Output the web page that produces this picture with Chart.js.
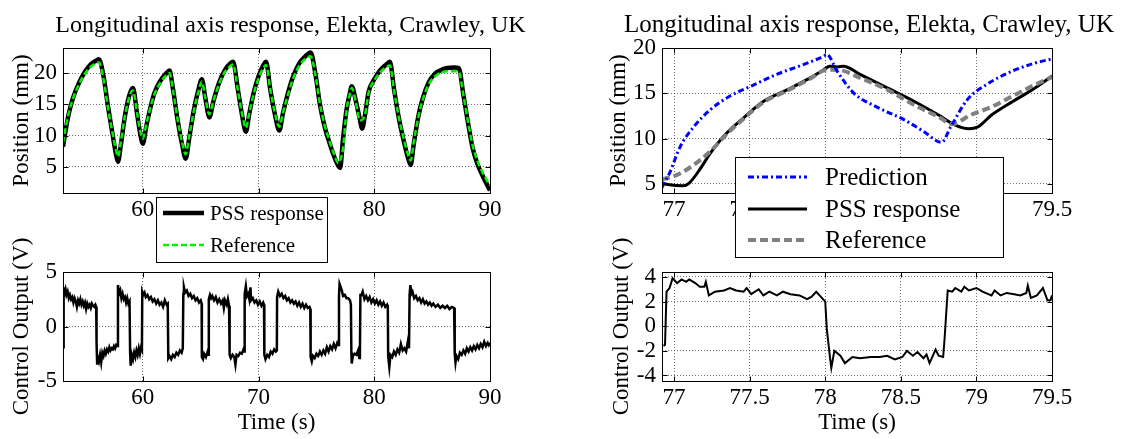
<!DOCTYPE html>
<html>
<head>
<meta charset="utf-8">
<script src="https://cdn.jsdelivr.net/npm/chart.js@4"></script>
<style>
  body { margin: 0; background: #fff; }
  #wrap { position: relative; width: 1139px; height: 439px; }
  canvas { position: absolute; left: 0; top: 0; }
</style>
</head>
<body>
<div id="wrap">
  <canvas id="ctrlL" width="1139" height="439"></canvas>
  <canvas id="ctrlR" width="1139" height="439"></canvas>
  <canvas id="posL" width="1139" height="439"></canvas>
  <canvas id="posR" width="1139" height="439"></canvas>
</div>
<script>
// ---- data ----
const titleText = "Longitudinal axis response, Elekta, Crawley, UK";

// left, position (mm) over the whole run
const tPosL = [53.1, 53.3, 53.6, 54.0, 54.5, 55.0, 55.5, 56.0, 56.2, 56.6, 57.0, 57.4, 57.7, 57.85,
  58.1, 58.4, 58.7, 59.0, 59.15, 59.5, 59.8, 60.0, 60.3, 60.7, 61.0, 61.5, 62.0, 62.3, 62.6, 63.0,
  63.4, 63.7, 64.0, 64.4, 64.8, 65.1, 65.4, 65.75, 66.1, 66.6, 67.1, 67.6, 67.8, 68.2, 68.6, 68.9,
  69.2, 69.6, 70.0, 70.4, 70.65, 71.0, 71.4, 71.8, 72.1, 72.5, 73.0, 73.5, 74.0, 74.5, 74.9, 75.3,
  75.7, 76.1, 76.5, 76.9, 77.05, 77.3, 77.6, 77.85, 78.05, 78.4, 78.75, 78.95, 79.2, 79.5, 80.0,
  80.5, 81.0, 81.35, 81.7, 82.1, 82.5, 82.9, 83.15, 83.4, 83.8, 84.2, 84.7, 85.2, 85.7, 86.3, 86.9,
  87.3, 87.7, 88.1, 88.5, 88.9, 89.3, 89.7, 90.0];
const pssPosL = [8.2, 10.5, 13.5, 16.2, 18.5, 20.2, 21.4, 22.0, 22.2, 19.5, 14.5, 10.0, 6.8, 5.8,
  8.5, 12.5, 15.5, 17.3, 17.6, 13.5, 10.0, 8.7, 11.5, 14.8, 16.8, 18.7, 19.9, 20.4, 17.5, 12.5,
  8.5, 6.3, 9.5, 14.0, 17.3, 19.0, 16.0, 12.9, 15.5, 18.5, 20.5, 21.6, 21.8, 17.5, 13.0, 10.6,
  13.5, 17.0, 19.5, 21.2, 21.8, 17.5, 13.5, 10.8, 13.5, 16.5, 19.5, 21.5, 22.6, 23.3, 20.0, 15.0,
  11.5, 9.0, 6.8, 5.1, 4.8, 9.5, 14.1, 16.4, 17.9, 15.6, 12.6, 11.1, 13.3, 16.9, 19.0,
  20.4, 21.3, 21.8, 17.5, 13.0, 9.5, 6.5, 5.3, 8.5, 13.0, 16.0, 18.5, 19.8, 20.4, 20.8, 20.9,
  20.8, 16.5, 12.0, 8.0, 5.5, 3.8, 2.3, 1.2];
const refPosL = [8.8, 10.9, 13.6, 16.1, 18.3, 19.9, 21.0, 21.6, 21.7, 19.0, 14.3, 10.2, 7.5, 6.6,
  9.0, 12.6, 15.3, 17.0, 17.2, 13.6, 10.5, 9.5, 11.8, 14.8, 16.6, 18.4, 19.6, 20.0, 17.3, 12.6,
  8.9, 7.0, 9.8, 13.9, 17.0, 18.6, 16.0, 13.4, 15.6, 18.3, 20.2, 21.2, 21.4, 17.4, 13.2, 11.2,
  13.6, 16.8, 19.2, 20.8, 21.3, 17.5, 13.7, 11.4, 13.6, 16.3, 19.2, 21.1, 22.2, 22.7, 19.8, 15.1,
  11.7, 9.3, 7.1, 5.6, 6.0, 8.0, 14.0, 16.3, 17.6, 15.4, 12.4, 12.5, 13.3, 16.8, 18.8,
  20.1, 20.9, 21.2, 17.3, 13.1, 9.8, 7.0, 6.0, 8.8, 12.9, 15.8, 18.2, 19.4, 20.0, 20.3, 20.3,
  20.2, 16.5, 12.2, 8.4, 6.0, 4.3, 2.9, 2.0];

// left, control output (V)
const tCtrlL = [53.1, 53.13, 53.18, 53.25, 53.32, 53.4, 53.5, 53.6, 53.7, 53.8, 53.9, 54.0, 54.1, 54.2,
  54.3, 54.4, 54.5, 54.6, 54.7, 54.8, 54.9, 55.0, 55.1, 55.2, 55.3, 55.4, 55.5, 55.6, 55.7, 55.8,
  55.9, 55.97, 56.0, 56.05, 56.12, 56.2, 56.3, 56.4, 56.5, 56.6, 56.7, 56.8, 56.9, 57.0, 57.1,
  57.2, 57.3, 57.4, 57.5, 57.6, 57.7, 57.8, 57.85, 57.95, 58.05, 58.15, 58.25, 58.35, 58.45,
  58.55, 58.65, 58.75, 58.85, 58.9, 58.95, 59.05, 59.15, 59.25, 59.35, 59.45, 59.55, 59.65,
  59.75, 59.85, 59.92, 59.95, 60.05, 60.15, 60.25, 60.4, 60.55, 60.7, 60.85, 61.0, 61.15, 61.3,
  61.45, 61.6, 61.75, 61.9, 62.05, 62.15, 62.2, 62.3, 62.45, 62.6, 62.75, 62.9, 63.05, 63.2,
  63.35, 63.45, 63.5, 63.55, 63.65, 63.8, 63.95, 64.1, 64.25, 64.4, 64.55, 64.7, 64.85, 65.0,
  65.08, 65.1, 65.2, 65.3, 65.45, 65.6, 65.68, 65.7, 65.8, 65.9, 66.0, 66.15, 66.3, 66.45, 66.6,
  66.75, 66.9, 67.0, 67.1, 67.25, 67.35, 67.45, 67.5, 67.6, 67.75, 67.9, 68.0, 68.1, 68.25, 68.4,
  68.55, 68.7, 68.78, 68.8, 68.9, 69.0, 69.1, 69.2, 69.3, 69.35, 69.5, 69.65, 69.8, 69.95, 70.1,
  70.25, 70.4, 70.47, 70.5, 70.6, 70.75, 70.9, 71.05, 71.2, 71.35, 71.5, 71.58, 71.6, 71.7, 71.85,
  72.0, 72.15, 72.3, 72.45, 72.6, 72.75, 72.9, 73.05, 73.2, 73.35, 73.5, 73.65, 73.8, 73.95, 74.1,
  74.25, 74.4, 74.47, 74.5, 74.6, 74.7, 74.85, 75.0, 75.15, 75.3, 75.45, 75.6, 75.75, 75.9, 76.05,
  76.2, 76.35, 76.5, 76.65, 76.8, 76.9, 76.95, 77.0, 77.1, 77.2, 77.3, 77.45, 77.6, 77.75, 77.9,
  77.98, 78.02, 78.05, 78.15, 78.3, 78.45, 78.6, 78.7, 78.76, 78.8, 78.9, 79.0, 79.15, 79.3, 79.45,
  79.6, 79.75, 79.9, 80.05, 80.2, 80.35, 80.5, 80.65, 80.8, 80.95, 81.1, 81.17, 81.2, 81.3, 81.4,
  81.55, 81.7, 81.85, 82.0, 82.15, 82.3, 82.45, 82.6, 82.75, 82.9, 83.0, 83.05, 83.12, 83.2, 83.3,
  83.45, 83.6, 83.75, 83.9, 84.05, 84.2, 84.35, 84.5, 84.65, 84.8, 84.95, 85.1, 85.3, 85.5, 85.7,
  85.9, 86.1, 86.3, 86.5, 86.7, 86.9, 86.95, 87.02, 87.1, 87.25, 87.4, 87.55, 87.7, 87.85, 88.0,
  88.15, 88.3, 88.45, 88.6, 88.75, 88.9, 89.05, 89.2, 89.35, 89.5, 89.65, 89.8, 89.9, 90.0];
const ctrlL = [-1.9, 3.0, 3.6, 3.1, 3.4, 2.9, 3.2, 2.6, 2.9, 2.5, 2.7, 2.2, 2.6, 2.3,
  1.8, 2.4, 2.1, 2.5, 2.0, 2.3, 1.9, 2.2, 1.6, 2.1, 1.8, 2.0, 1.7, 2.1, 1.9, 1.8,
  2.0, 1.8, -1.5, -3.4, -2.9, -3.2, -2.6, -3.3, -2.4, -2.7, -2.2, -2.5, -2.1, -2.3, -1.9,
  -2.2, -2.0, -2.1, -1.8, -2.0, -1.7, -1.8, 3.8, 3.0, 3.3, 2.6, 3.0, 2.5, 2.7,
  2.2, 2.6, 2.1, 2.3, -2.4, -3.6, -2.6, -3.0, -2.4, -2.8, -2.2, -2.6, -2.0,
  -2.5, -1.9, -2.1, 3.2, 2.9, 3.1, 2.7, 2.9, 2.5, 2.7, 2.3, 2.5, 2.1, 2.4,
  2.0, 2.2, 1.8, 2.4, 2.0, 2.1, -2.9, -2.7, -3.0, -2.6, -2.8, -2.4, -2.6, -2.2,
  -2.4, -2.0, 3.0, 3.6, 3.1, 3.3, 2.8, 3.0, 2.6, 2.8, 2.4, 2.6, 2.2, 2.4,
  2.1, -2.8, -3.0, -2.5, -2.8, -2.3, -2.6, 2.5, 2.9, 2.6, 2.8, 2.4, 2.7, 2.2, 2.5,
  2.1, 2.4, 1.7, 2.4, 2.0, 2.5, 1.9, -2.6, -2.9, -2.6, -2.8, -3.5, -2.6, -2.7, -2.4,
  -2.5, -2.1, -2.3, 3.0, 3.7, 2.8, 3.0, 2.5, 3.6, 2.4, 2.6, 2.2, 2.4, 2.0, 2.3,
  1.9, 2.2, 2.0, -2.6, -3.0, -2.6, -2.8, -2.3, -2.5, -2.1, -2.3, -2.2, 2.7, 3.2, 2.8,
  3.0, 2.6, 2.8, 2.4, 2.6, 2.2, 2.4, 2.1, 2.3, 1.9, 2.2, 1.8, 2.1, 1.7, 2.0,
  1.7, 1.8, 1.6, -2.8, -3.2, -2.7, -2.9, -2.5, -2.7, -2.3, -2.6, -2.2, -2.5, -1.9, -2.3,
  -1.8, -2.1, -1.6, -2.0, -1.5, -1.7, 2.8, 3.9, 3.6, 3.3, 2.8, 2.9, 2.6, 2.6, 2.4,
  2.0, -2.4, -3.4, -2.7, -2.5, -2.6, -2.2, -2.9, -2.4, 2.9, 2.9, 3.2, 2.5, 2.8, 2.4,
  2.7, 2.2, 2.5, 2.1, 2.4, 2.0, 2.3, 1.9, 2.2, 1.8, 2.0, 1.7, -2.7, -3.7, -2.6,
  -2.8, -2.3, -2.6, -2.1, -2.4, -1.6, -2.2, -2.0, -2.3, -1.4, -2.0, 2.9, 3.8, 3.0, 3.2,
  2.6, 2.8, 2.4, 2.6, 2.2, 2.5, 2.1, 2.3, 2.0, 2.2, 1.9, 2.1, 1.8, 2.0, 1.7,
  1.9, 1.7, 1.9, 1.6, 1.8, 1.7, -2.5, -3.3, -2.7, -3.0, -2.4, -2.6, -2.2, -2.5, -2.0,
  -2.3, -1.9, -2.2, -1.8, -2.1, -1.7, -2.0, -1.6, -1.9, -1.4, -1.8, -1.5, -1.7, -1.5];

// right, zoomed position (mm)
const tPredR = [76.92, 76.97, 77.04, 77.13, 77.24, 77.37, 77.51, 77.68, 77.86, 77.99, 78.01, 78.08,
  78.19, 78.34, 78.52, 78.65, 78.77, 78.83, 78.94, 79.07, 79.23, 79.38, 79.5];
const predR = [4.6, 6.2, 9.1, 11.3, 13.2, 14.7, 15.8, 17.1, 18.2, 19.1, 19.3, 17.4,
  15.0, 13.5, 12.1, 10.8, 9.6, 11.3, 14.3, 16.0, 17.4, 18.3, 18.8];
const tPssR = [76.92, 76.97, 77.06, 77.1, 77.17, 77.24, 77.33, 77.46, 77.59, 77.75, 77.9, 77.99,
  78.03, 78.08, 78.12, 78.23, 78.41, 78.59, 78.75, 78.86, 78.95, 79.01, 79.1, 79.24, 79.37, 79.5];
const pssR = [5.1, 4.9, 4.8, 5.1, 6.6, 8.4, 10.3, 12.3, 14.1, 15.4, 16.7, 17.6,
  18.0, 17.9, 18.0, 17.1, 15.6, 14.1, 12.6, 11.5, 11.1, 11.3, 12.6, 14.1, 15.4, 16.9];
const tRefR = [76.92, 77.02, 77.13, 77.24, 77.33, 77.46, 77.59, 77.75, 77.9, 78.01, 78.08, 78.23,
  78.41, 78.59, 78.75, 78.84, 78.96, 79.1, 79.24, 79.37, 79.5];
const refR = [5.5, 6.0, 7.1, 8.6, 10.2, 12.2, 14.0, 15.3, 16.6, 17.6, 17.6, 16.7,
  15.4, 13.7, 12.4, 11.6, 12.6, 13.5, 14.7, 15.8, 16.8];

// right, zoomed control output (V)
const tCtrlR = [76.93, 76.94, 76.95, 76.97, 76.99, 77.02, 77.05, 77.08, 77.1, 77.14, 77.17, 77.2,
  77.21, 77.23, 77.27, 77.33, 77.37, 77.41, 77.46, 77.48, 77.51, 77.56, 77.59, 77.63, 77.68,
  77.72, 77.77, 77.83, 77.88, 77.91, 77.94, 77.97, 78.0, 78.01, 78.03, 78.04, 78.06, 78.1,
  78.13, 78.18, 78.23, 78.3, 78.36, 78.41, 78.46, 78.51, 78.54, 78.58, 78.61, 78.65, 78.67,
  78.69, 78.73, 78.75, 78.78, 78.79, 78.81, 78.84, 78.86, 78.9, 78.92, 78.95, 79.0, 79.04,
  79.1, 79.12, 79.16, 79.2, 79.25, 79.29, 79.33, 79.34, 79.36, 79.4, 79.44, 79.47, 79.49, 79.5];
const ctrlR = [-1.6, -1.5, 2.8, 3.1, 3.9, 3.5, 3.8, 3.6, 3.8, 3.5, 3.2, 3.2,
  3.6, 2.5, 2.8, 2.9, 3.1, 2.9, 2.8, 3.1, 2.6, 3.0, 2.5, 2.8, 2.5,
  2.8, 2.6, 2.5, 2.2, 2.4, 2.8, 2.4, 2.0, -0.2, -2.4, -3.4, -2.0, -2.4,
  -3.0, -2.5, -2.6, -2.5, -2.5, -2.4, -2.7, -2.5, -2.0, -2.4, -2.1, -2.6, -2.3,
  -3.0, -1.9, -2.4, -2.5, -0.9, 2.9, 2.8, 3.1, 2.8, 3.2, 2.9, 3.1, 2.8,
  2.5, 2.9, 2.5, 2.7, 2.6, 2.5, 2.7, 3.3, 2.3, 2.5, 3.1, 2.1, 2.1, 2.5];

// ---- drawing ----
const W = 1139, H = 439;
const FONT = '"Liberation Serif", "Times New Roman", serif';
const FS = 23;
const LH = FS * 1.2;

function pts(t, v) {
  return t.map((x, i) => ({ x: x, y: v[i] }));
}

// matlab style: closed box with short inward ticks, title and a boxed legend
const framePlugin = {
  id: "frame",
  afterDatasetsDraw(chart) {
    const { ctx, chartArea: a, scales } = chart;
    const l = Math.round(a.left) + 0.5, t = Math.round(a.top) + 0.5;
    const r = Math.round(a.right) + 0.5, b = Math.round(a.bottom) + 0.5;
    ctx.save();
    ctx.strokeStyle = "#000";
    ctx.lineWidth = 1;
    ctx.strokeRect(l, t, r - l, b - t);
    ctx.beginPath();
    scales.x.ticks.forEach(tk => {
      const px = Math.round(scales.x.getPixelForValue(tk.value)) + 0.5;
      ctx.moveTo(px, b); ctx.lineTo(px, b - 5);
      ctx.moveTo(px, t); ctx.lineTo(px, t + 5);
    });
    scales.y.ticks.forEach(tk => {
      const py = Math.round(scales.y.getPixelForValue(tk.value)) + 0.5;
      ctx.moveTo(l, py); ctx.lineTo(l + 5, py);
      ctx.moveTo(r, py); ctx.lineTo(r - 5, py);
    });
    ctx.stroke();
    ctx.restore();
  },
  afterDraw(chart, args, opts) {
    const { ctx, chartArea: a } = chart;
    ctx.save();
    ctx.fillStyle = "#000";
    if (opts.title) {
      ctx.font = opts.titleSize + "px " + FONT;
      ctx.textAlign = "center";
      ctx.textBaseline = "alphabetic";
      ctx.fillText(opts.title, (a.left + a.right) / 2 + opts.titleShift, opts.titleY);
    }
    const lg = opts.box;
    if (lg) {
      ctx.font = lg.size + "px " + FONT;
      ctx.fillStyle = "#fff";
      ctx.fillRect(lg.x, lg.y, lg.w, lg.h);
      ctx.strokeStyle = "#000";
      ctx.lineWidth = 1;
      ctx.strokeRect(lg.x + 0.5, lg.y + 0.5, lg.w, lg.h);
      chart.data.datasets.forEach((ds, i) => {
        const yy = lg.rows[i];
        ctx.beginPath();
        ctx.strokeStyle = ds.borderColor;
        ctx.lineWidth = ds.borderWidth;
        ctx.setLineDash(ds.borderDash || []);
        ctx.moveTo(lg.x + lg.lineFrom, yy);
        ctx.lineTo(lg.x + lg.lineTo, yy);
        ctx.stroke();
        ctx.setLineDash([]);
        ctx.fillStyle = "#000";
        ctx.textAlign = "left";
        ctx.textBaseline = "middle";
        ctx.fillText(ds.label, lg.x + lg.textAt, yy + 1);
      });
    }
    ctx.restore();
  }
};

// box = plot frame in page pixels, yTitleX = centre of the rotated y label
function makeOptions(box, xr, yr, yLabel, xLabel, frame) {
  const padLeft = box.yTitleX - LH / 2;
  const padBottom = xLabel ? 2 : H - box.B - 40;
  const font = { family: FONT, size: FS };
  const grid = { color: "rgba(0,0,0,0.55)", lineWidth: 1, drawTicks: false };
  const border = { display: false, dash: [1, 2] };
  const fmt = v => String(Math.round(v * 100) / 100);
  return {
    responsive: false,
    animation: false,
    layout: { padding: { left: padLeft, top: box.T, right: W - box.R, bottom: padBottom } },
    plugins: { legend: { display: false }, tooltip: { enabled: false }, frame: frame },
    elements: { point: { radius: 0 } },
    scales: {
      x: {
        type: "linear", min: xr.min, max: xr.max,
        afterFit: s => { s.height = H - box.B - padBottom; },
        ticks: { stepSize: xr.step, includeBounds: false, autoSkip: false, maxRotation: 0,
                 padding: 3, color: "#000", font: font, callback: fmt },
        grid: grid, border: border,
        title: { display: !!xLabel, text: xLabel || "", color: "#000", font: font, padding: 0 }
      },
      y: {
        min: yr.min, max: yr.max,
        afterFit: s => { s.width = box.L - padLeft; },
        ticks: { stepSize: yr.step, includeBounds: false, autoSkip: false, padding: 6,
                 color: "#000", font: font, callback: fmt },
        grid: grid, border: border,
        title: { display: true, text: yLabel, color: "#000", font: font, padding: 0 }
      }
    }
  };
}

const boxTL = { L: 63, R: 490, T: 48, B: 193, yTitleX: 22 };
const boxBL = { L: 63, R: 490, T: 272, B: 381, yTitleX: 22 };
const boxTR = { L: 662, R: 1052, T: 48, B: 193, yTitleX: 619 };
const boxBR = { L: 662, R: 1052, T: 272, B: 381, yTitleX: 622 };

const xLeft = { min: 53.1, max: 90, step: 10 };
const xRight = { min: 76.92, max: 79.5, step: 0.5 };

new Chart(document.getElementById("ctrlL"), {
  type: "line",
  data: { datasets: [{ label: "Control", data: pts(tCtrlL, ctrlL), borderColor: "#000",
                       borderWidth: 2.5, tension: 0 }] },
  options: makeOptions(boxBL, xLeft, { min: -5, max: 5, step: 5 },
                       "Control Output (V)", "Time (s)", {}),
  plugins: [framePlugin]
});

new Chart(document.getElementById("ctrlR"), {
  type: "line",
  data: { datasets: [{ label: "Control", data: pts(tCtrlR, ctrlR), borderColor: "#000",
                       borderWidth: 2, tension: 0 }] },
  options: makeOptions(boxBR, xRight, { min: -4.45, max: 4.4, step: 2 },
                       "Control Output (V)", "Time (s)", {}),
  plugins: [framePlugin]
});

new Chart(document.getElementById("posL"), {
  type: "line",
  data: { datasets: [
    { label: "PSS response", data: pts(tPosL, pssPosL), borderColor: "#000", borderWidth: 4.5,
      cubicInterpolationMode: "monotone", order: 1 },
    { label: "Reference", data: pts(tPosL, refPosL), borderColor: "#00ee00", borderWidth: 2.5,
      borderDash: [6, 3], cubicInterpolationMode: "monotone", order: 0 }
  ] },
  options: makeOptions(boxTL, xLeft, { min: 0.8, max: 24, step: 5 }, "Position (mm)", null, {
    title: titleText, titleY: 32, titleSize: 24, titleShift: 14,
    box: { x: 156, y: 197, w: 171, h: 65, size: 21, rows: [213, 245], lineFrom: 7, lineTo: 48, textAt: 54 }
  }),
  plugins: [framePlugin]
});

new Chart(document.getElementById("posR"), {
  type: "line",
  data: { datasets: [
    { label: "Prediction", data: pts(tPredR, predR), borderColor: "#0000ff", borderWidth: 3,
      borderDash: [6, 3, 2, 3], cubicInterpolationMode: "monotone", order: 0 },
    { label: "PSS response", data: pts(tPssR, pssR), borderColor: "#000", borderWidth: 3,
      cubicInterpolationMode: "monotone", order: 2 },
    { label: "Reference", data: pts(tRefR, refR), borderColor: "#808080", borderWidth: 4,
      borderDash: [8, 4], cubicInterpolationMode: "monotone", order: 1 }
  ] },
  options: makeOptions(boxTR, xRight, { min: 4, max: 20, step: 5 }, "Position (mm)", null, {
    title: titleText, titleY: 32, titleSize: 25, titleShift: 12,
    box: { x: 735, y: 157, w: 268, h: 100, size: 25, rows: [177, 209, 240], lineFrom: 13, lineTo: 72, textAt: 90 }
  }),
  plugins: [framePlugin]
});
</script>
</body>
</html>
